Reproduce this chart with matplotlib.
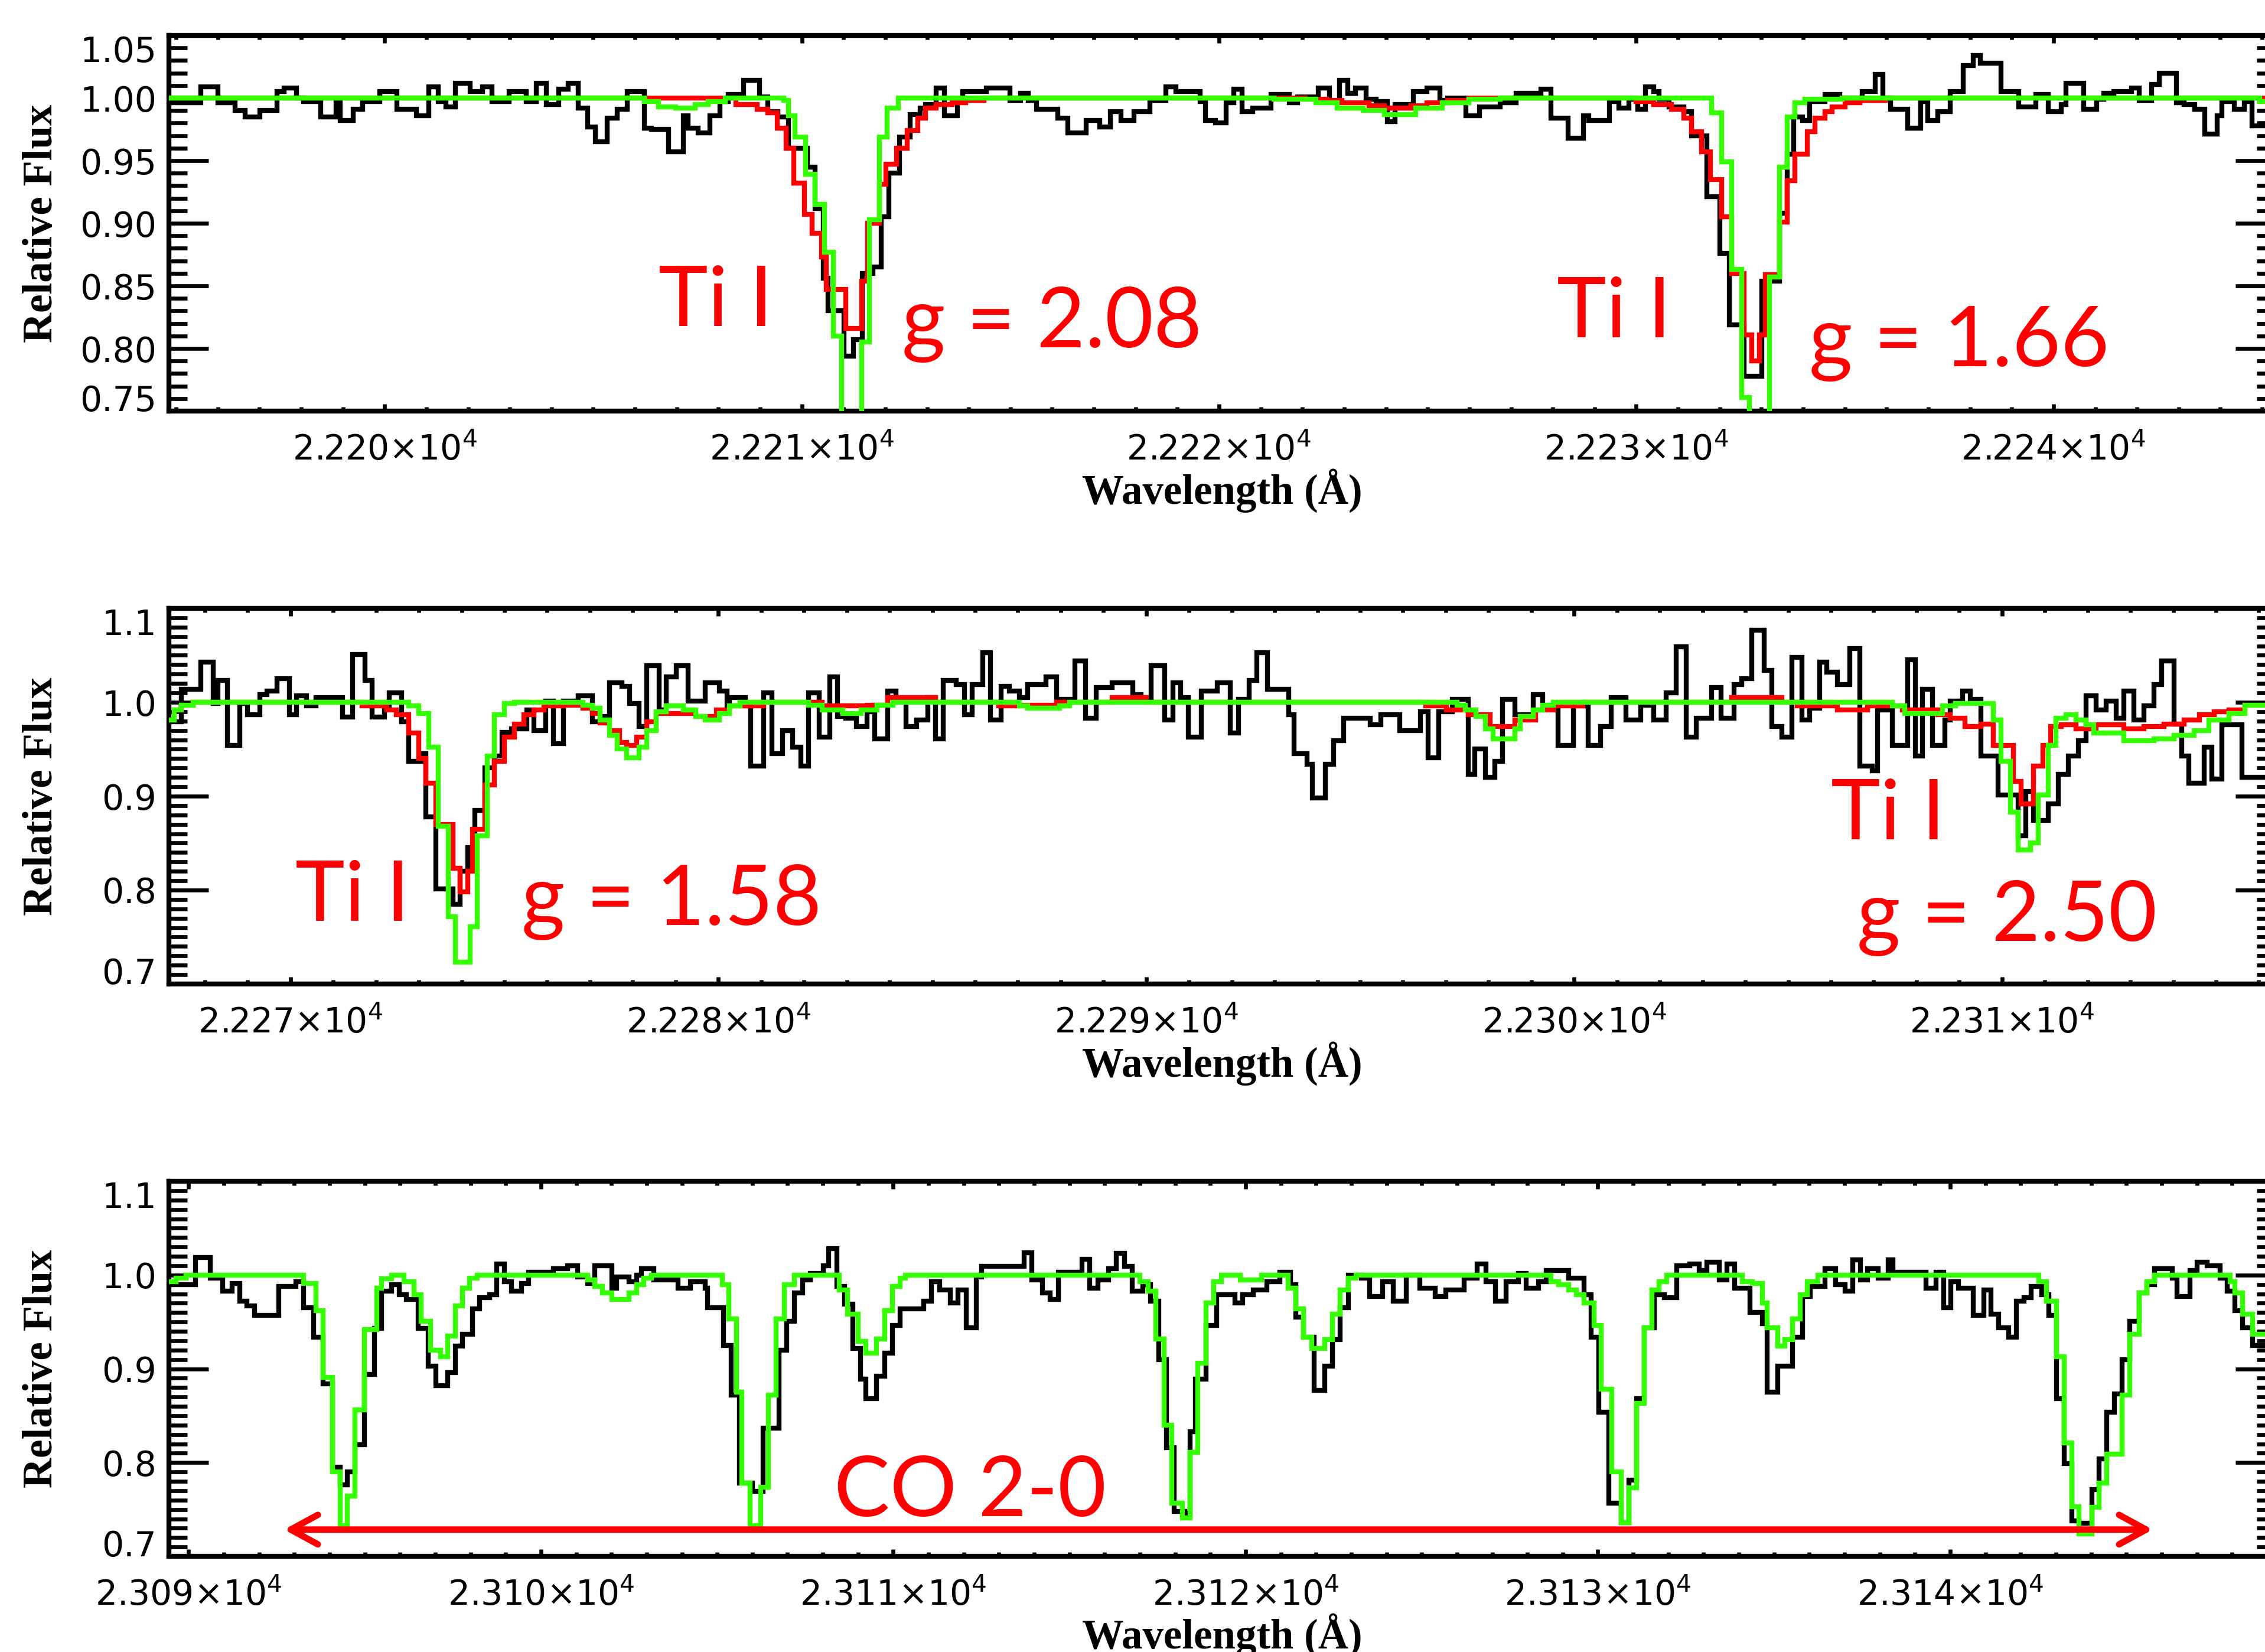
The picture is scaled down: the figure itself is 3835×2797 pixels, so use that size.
import matplotlib
matplotlib.use('Agg')
import matplotlib.pyplot as plt
from matplotlib.ticker import MultipleLocator, FuncFormatter

# ---------------------------------------------------------------------------
# Data: each series is a list of step start wavelengths (Angstrom) and the
# relative flux of that step.
# ---------------------------------------------------------------------------

# panel 1 : Ti I 22211 / 22233
p1_obs_wl = [22194.70, 22195.60, 22196.01, 22196.42, 22196.65, 22197.01, 22197.42, 22197.59, 22197.89, 22198.06,
             22198.47, 22198.83, 22198.94, 22199.24, 22199.47, 22199.88, 22200.29, 22200.76, 22201.06, 22201.29,
             22201.47, 22201.70, 22202.05, 22202.35, 22202.58, 22202.99, 22203.40, 22203.64, 22203.87, 22204.17,
             22204.40, 22204.64, 22204.87, 22205.05, 22205.34, 22205.58, 22205.81, 22206.22, 22206.40, 22206.81,
             22207.16, 22207.28, 22207.51, 22207.79, 22208.04, 22208.23, 22208.61, 22208.99, 22209.18, 22209.43,
             22209.68, 22210.13, 22210.32, 22210.51, 22210.63, 22211.01, 22211.23, 22211.45, 22211.71, 22211.90,
             22212.09, 22212.34, 22212.59, 22212.84, 22212.97, 22213.22, 22213.41, 22213.73, 22213.85, 22214.42,
             22214.99, 22215.24, 22215.43, 22215.62, 22216.13, 22216.38, 22216.82, 22217.14, 22217.39, 22217.65,
             22217.96, 22218.34, 22218.72, 22218.97, 22219.54, 22219.67, 22219.92, 22220.17, 22220.36, 22220.55,
             22220.81, 22221.25, 22221.69, 22221.88, 22222.38, 22222.64, 22222.89, 22223.08, 22223.27, 22223.52,
             22223.77, 22224.03, 22224.22, 22224.66, 22224.98, 22225.29, 22225.48, 22225.92, 22226.24, 22226.74,
             22227.12, 22227.71, 22227.95, 22228.37, 22228.73, 22228.86, 22229.36, 22229.58, 22229.82, 22230.04,
             22230.22, 22230.42, 22230.54, 22230.78, 22231.14, 22231.33, 22231.69, 22232.01, 22232.23, 22232.59,
             22233.01, 22233.43, 22233.62, 22233.77, 22233.98, 22234.16, 22234.52, 22234.88, 22235.42, 22235.72,
             22235.91, 22236.09, 22236.51, 22236.81, 22236.99, 22237.23, 22237.53, 22237.83, 22238.07, 22238.25,
             22238.74, 22239.16, 22239.58, 22239.88, 22240.18, 22240.30, 22240.73, 22241.03, 22241.21, 22241.45,
             22241.87, 22242.05, 22242.35, 22242.53, 22242.95, 22243.13, 22243.38, 22243.62, 22243.92, 22244.04,
             22244.34, 22244.58, 22244.76]
p1_obs_flux = [0.996, 1.009, 0.996, 0.990, 0.985, 0.990, 1.005, 1.008, 1.000, 0.997,
               0.985, 0.997, 0.982, 0.991, 0.997, 1.005, 0.991, 0.986, 1.009, 0.997,
               0.993, 1.012, 1.005, 1.009, 0.997, 1.005, 0.997, 1.012, 0.995, 1.007,
               1.012, 0.992, 0.977, 0.965, 0.984, 0.991, 1.005, 0.976, 0.975, 0.957,
               0.986, 0.976, 0.972, 0.986, 0.997, 1.003, 1.014, 1.001, 0.989, 0.985,
               0.960, 0.945, 0.912, 0.856, 0.830, 0.794, 0.807, 0.860, 0.865, 0.905,
               0.940, 0.969, 0.987, 0.992, 0.995, 1.008, 0.986, 0.997, 1.005, 1.008,
               0.998, 1.004, 0.998, 0.991, 0.984, 0.972, 0.982, 0.977, 0.989, 0.982,
               0.989, 0.998, 1.009, 1.005, 0.997, 0.982, 0.980, 0.996, 1.007, 0.989,
               0.992, 1.003, 0.996, 1.001, 1.008, 0.997, 1.014, 1.004, 1.008, 0.999,
               0.997, 0.981, 0.995, 1.005, 1.008, 0.998, 1.000, 0.986, 0.993, 0.996,
               1.004, 1.007, 0.984, 0.968, 0.986, 0.982, 0.997, 0.992, 0.999, 0.991,
               1.009, 1.005, 0.999, 0.993, 0.989, 0.970, 0.921, 0.876, 0.819, 0.778,
               0.854, 0.908, 0.955, 0.985, 0.982, 0.997, 1.003, 1.000, 1.005, 1.019,
               1.000, 0.991, 0.976, 0.997, 0.982, 0.989, 1.005, 1.026, 1.034, 1.028,
               1.005, 0.993, 1.003, 0.989, 0.995, 1.012, 0.991, 0.999, 1.004, 1.005,
               1.008, 0.998, 1.011, 1.020, 0.996, 0.995, 0.991, 0.971, 0.986, 0.997,
               0.991, 0.997, 0.978]
p1_red_wl = [22194.70, 22208.42, 22208.93, 22209.18, 22209.41, 22209.62, 22209.81, 22210.06, 22210.25, 22210.47,
             22210.59, 22211.05, 22211.43, 22211.58, 22211.86, 22212.02, 22212.27, 22212.53, 22212.78, 22212.97,
             22213.22, 22213.60, 22213.92, 22214.36, 22222.07, 22222.57, 22222.95, 22223.59, 22223.96, 22224.60,
             22224.98, 22225.48, 22225.99, 22230.00, 22230.42, 22230.84, 22231.14, 22231.33, 22231.57, 22231.77,
             22232.05, 22232.29, 22232.59, 22232.77, 22232.95, 22233.10, 22233.43, 22233.62, 22233.80, 22234.10,
             22234.28, 22234.52, 22234.70, 22235.00, 22235.36, 22235.97]
p1_red_flux = [1.000, 0.995, 0.991, 0.988, 0.976, 0.960, 0.932, 0.907, 0.892, 0.873,
               0.847, 0.816, 0.854, 0.900, 0.931, 0.947, 0.960, 0.974, 0.984, 0.992,
               0.995, 0.996, 0.998, 1.000, 0.999, 0.998, 0.996, 0.994, 0.992, 0.994,
               0.996, 0.998, 1.000, 0.997, 0.995, 0.991, 0.984, 0.973, 0.957, 0.935,
               0.905, 0.860, 0.811, 0.790, 0.811, 0.859, 0.901, 0.934, 0.955, 0.973,
               0.984, 0.989, 0.993, 0.996, 0.998, 1.000]
p1_green_wl = [22194.70, 22206.22, 22206.57, 22206.98, 22207.45, 22207.75, 22208.16, 22209.56, 22209.68, 22209.84,
               22210.09, 22210.32, 22210.54, 22210.76, 22210.95, 22211.43, 22211.62, 22211.86, 22212.05, 22212.31,
               22221.31, 22222.32, 22222.83, 22223.46, 22223.96, 22224.72, 22225.35, 22225.99, 22226.74, 22231.81,
               22232.05, 22232.29, 22232.53, 22232.71, 22232.95, 22233.19, 22233.43, 22233.62, 22233.80, 22234.04,
               22234.94, 22244.94]
p1_green_flux = [1.000, 0.997, 0.993, 0.992, 0.995, 0.997, 1.000, 0.998, 0.986, 0.969,
                 0.939, 0.915, 0.877, 0.810, 0.700, 0.805, 0.903, 0.969, 0.992, 1.000,
                 0.999, 0.996, 0.992, 0.990, 0.987, 0.992, 0.996, 0.999, 1.000, 0.988,
                 0.949, 0.863, 0.761, 0.700, 0.748, 0.857, 0.945, 0.985, 0.996, 0.999,
                 1.000, 0.997]

# panel 2 : Ti I 22274 / 22311
p2_obs_wl = [22267.10, 22267.45, 22267.91, 22268.19, 22268.31, 22268.53, 22268.82, 22268.99, 22269.28, 22269.45,
             22269.68, 22269.97, 22270.14, 22270.37, 22270.60, 22271.22, 22271.45, 22271.74, 22271.91, 22272.20,
             22272.31, 22272.60, 22272.77, 22273.06, 22273.17, 22273.40, 22273.80, 22273.97, 22274.14, 22274.31,
             22274.54, 22274.77, 22274.94, 22275.17, 22275.52, 22275.69, 22275.97, 22276.15, 22276.38, 22276.72,
             22277.06, 22277.29, 22277.46, 22277.75, 22277.92, 22278.15, 22278.32, 22278.61, 22278.78, 22279.01,
             22279.29, 22279.69, 22280.02, 22280.20, 22280.26, 22280.63, 22280.76, 22281.06, 22281.25, 22281.50,
             22281.74, 22281.93, 22282.11, 22282.36, 22282.61, 22282.79, 22282.98, 22283.22, 22283.47, 22283.65,
             22283.96, 22284.15, 22284.39, 22284.64, 22284.89, 22285.07, 22285.26, 22285.56, 22285.75, 22285.93,
             22286.18, 22286.36, 22286.61, 22286.80, 22287.04, 22287.23, 22287.66, 22287.90, 22288.34, 22288.58,
             22288.83, 22289.20, 22289.69, 22289.88, 22290.12, 22290.43, 22290.62, 22290.80, 22290.99, 22291.29,
             22291.66, 22291.97, 22292.16, 22292.40, 22292.59, 22292.83, 22293.33, 22293.45, 22293.76, 22293.88,
             22294.19, 22294.38, 22294.62, 22295.24, 22295.48, 22295.92, 22296.41, 22296.59, 22296.84, 22297.15,
             22297.52, 22297.68, 22297.92, 22298.15, 22298.33, 22298.62, 22299.04, 22299.27, 22299.62, 22299.98,
             22300.33, 22300.62, 22300.86, 22301.21, 22301.56, 22301.86, 22302.15, 22302.39, 22302.62, 22302.86,
             22303.21, 22303.44, 22303.74, 22303.91, 22304.15, 22304.44, 22304.62, 22304.85, 22305.09, 22305.32,
             22305.50, 22305.74, 22305.91, 22306.15, 22306.44, 22306.68, 22306.97, 22307.09, 22307.44, 22307.79,
             22307.97, 22308.14, 22308.38, 22308.67, 22308.79, 22309.08, 22309.26, 22309.50, 22309.91, 22310.38,
             22310.55, 22310.73, 22311.08, 22311.32, 22311.55, 22311.79, 22311.96, 22312.20, 22312.43, 22312.67,
             22312.85, 22313.08, 22313.32, 22313.55, 22313.73, 22314.02, 22314.20, 22314.37, 22314.73, 22314.90,
             22315.14, 22315.61]
p2_obs_flux = [0.979, 1.014, 1.043, 0.999, 1.023, 0.954, 0.999, 0.987, 1.008, 1.012,
               1.025, 0.987, 1.007, 0.996, 1.005, 0.984, 1.051, 1.023, 0.984, 0.996,
               1.010, 0.979, 0.937, 0.945, 0.878, 0.801, 0.785, 0.820, 0.845, 0.885,
               0.930, 0.943, 0.968, 0.972, 0.992, 0.970, 1.001, 0.956, 1.001, 1.007,
               0.979, 0.985, 1.021, 1.017, 0.999, 0.974, 1.039, 0.992, 1.027, 1.039,
               1.001, 1.021, 1.012, 0.996, 1.005, 0.996, 0.932, 1.010, 0.945, 0.970,
               0.952, 0.932, 1.010, 0.963, 1.027, 0.985, 0.983, 0.974, 0.990, 0.961,
               1.012, 1.001, 0.974, 0.981, 1.005, 0.961, 1.023, 1.019, 0.987, 1.019,
               1.053, 0.981, 1.017, 1.012, 1.005, 1.019, 1.027, 1.003, 1.044, 0.983,
               1.016, 1.021, 1.008, 1.001, 1.039, 0.981, 1.021, 1.005, 0.963, 1.012,
               1.021, 0.967, 1.003, 1.023, 1.053, 1.014, 0.987, 0.945, 0.934, 0.898,
               0.934, 0.959, 0.983, 0.976, 0.987, 0.970, 0.990, 0.941, 0.990, 1.003,
               0.923, 0.950, 0.920, 0.937, 1.003, 0.987, 1.008, 0.996, 0.954, 0.996,
               0.954, 0.974, 1.005, 0.981, 0.997, 0.981, 1.010, 1.059, 0.963, 0.983,
               1.016, 0.983, 1.019, 1.025, 1.077, 1.034, 0.974, 0.963, 1.048, 0.981,
               0.994, 1.043, 1.032, 1.019, 1.057, 0.932, 0.927, 0.992, 0.954, 1.045,
               0.943, 1.014, 0.954, 0.981, 1.001, 1.012, 1.003, 0.943, 0.901, 0.858,
               0.905, 0.874, 0.892, 0.923, 0.943, 0.959, 1.007, 0.992, 1.001, 0.983,
               1.012, 0.981, 0.996, 1.019, 1.044, 0.977, 0.943, 0.914, 0.952, 0.918,
               0.976, 0.920]
p2_red_wl = [22267.10, 22267.28, 22267.45, 22267.73, 22271.68, 22272.25, 22272.48, 22272.77, 22273.00, 22273.17,
             22273.40, 22273.80, 22273.97, 22274.14, 22274.25, 22274.54, 22274.77, 22275.00, 22275.23, 22275.46,
             22275.69, 22275.92, 22276.38, 22276.83, 22277.06, 22277.23, 22277.46, 22277.69, 22277.86, 22278.09,
             22278.32, 22278.55, 22279.47, 22279.96, 22280.26, 22281.06, 22282.42, 22283.47, 22283.96, 22285.07,
             22286.55, 22286.98, 22287.90, 22289.20, 22290.00, 22296.53, 22297.02, 22297.52, 22298.04, 22298.62,
             22299.10, 22299.51, 22300.21, 22303.68, 22304.85, 22305.21, 22306.15, 22306.85, 22307.67, 22308.50,
             22308.79, 22309.14, 22309.50, 22309.79, 22310.26, 22310.44, 22310.73, 22310.96, 22311.14, 22311.38,
             22311.73, 22312.20, 22312.85, 22313.32, 22313.79, 22314.26, 22314.61, 22314.96, 22315.31, 22315.67]
p2_red_flux = [0.981, 0.992, 0.997, 1.000, 0.996, 0.992, 0.987, 0.967, 0.940, 0.914,
               0.870, 0.823, 0.798, 0.820, 0.865, 0.912, 0.937, 0.963, 0.977, 0.987,
               0.992, 0.996, 0.997, 0.994, 0.988, 0.978, 0.970, 0.957, 0.954, 0.963,
               0.979, 0.988, 0.985, 0.992, 0.996, 1.000, 0.996, 0.997, 1.005, 1.000,
               0.996, 0.997, 1.000, 1.005, 1.000, 0.996, 0.992, 0.987, 0.974, 0.981,
               0.992, 0.996, 1.000, 1.005, 1.000, 0.996, 0.992, 0.996, 0.992, 0.987,
               0.983, 0.974, 0.977, 0.954, 0.916, 0.892, 0.932, 0.954, 0.974, 0.976,
               0.972, 0.976, 0.972, 0.974, 0.977, 0.981, 0.987, 0.990, 0.992, 0.997]
p2_green_wl = [22267.10, 22267.28, 22267.45, 22267.73, 22272.77, 22273.00, 22273.23, 22273.46, 22273.69, 22273.86,
               22274.20, 22274.37, 22274.60, 22274.77, 22275.00, 22275.23, 22276.83, 22277.06, 22277.23, 22277.46,
               22277.63, 22277.86, 22278.15, 22278.32, 22278.55, 22278.78, 22279.18, 22279.47, 22279.69, 22280.02,
               22280.26, 22280.51, 22282.11, 22282.42, 22282.91, 22283.34, 22283.71, 22284.08, 22287.04, 22287.23,
               22287.97, 22288.21, 22297.27, 22297.46, 22297.70, 22297.92, 22298.10, 22298.62, 22298.74, 22299.04,
               22299.27, 22299.51, 22307.44, 22307.73, 22308.61, 22308.91, 22309.79, 22309.97, 22310.20, 22310.38,
               22310.67, 22310.85, 22311.08, 22311.26, 22311.49, 22311.73, 22311.96, 22312.14, 22312.85, 22313.55,
               22314.02, 22314.49, 22314.84, 22315.31, 22315.67]
p2_green_flux = [0.981, 0.992, 0.997, 1.000, 0.996, 0.988, 0.952, 0.868, 0.772, 0.723,
                 0.761, 0.858, 0.943, 0.987, 0.999, 1.000, 0.997, 0.994, 0.981, 0.965,
                 0.950, 0.941, 0.952, 0.970, 0.990, 0.996, 0.992, 0.985, 0.981, 0.988,
                 0.996, 1.000, 0.997, 0.992, 0.988, 0.992, 0.997, 1.000, 0.996, 0.994,
                 0.996, 1.000, 0.997, 0.992, 0.985, 0.972, 0.961, 0.972, 0.985, 0.992,
                 0.997, 1.000, 0.996, 0.988, 0.996, 0.999, 0.981, 0.937, 0.883, 0.843,
                 0.850, 0.901, 0.954, 0.983, 0.987, 0.981, 0.976, 0.967, 0.959, 0.961,
                 0.965, 0.970, 0.981, 0.988, 0.997]

# panel 3 : CO 2-0 band head region
p3_obs_wl = [23089.40, 23090.20, 23090.62, 23090.96, 23091.24, 23091.45, 23091.66, 23091.87, 23092.56, 23093.05,
             23093.26, 23093.54, 23093.81, 23094.09, 23094.30, 23094.51, 23094.72, 23094.99, 23095.27, 23095.48,
             23095.76, 23095.97, 23096.18, 23096.52, 23096.80, 23097.01, 23097.36, 23097.57, 23097.78, 23098.05,
             23098.26, 23098.54, 23098.75, 23098.96, 23099.17, 23099.44, 23099.65, 23100.35, 23100.76, 23101.04,
             23101.32, 23101.53, 23102.02, 23102.15, 23102.50, 23102.71, 23102.85, 23103.20, 23103.89, 23104.24,
             23104.66, 23104.73, 23105.18, 23105.40, 23105.63, 23106.00, 23106.30, 23106.75, 23106.98, 23107.20,
             23107.43, 23107.65, 23108.02, 23108.17, 23108.40, 23108.62, 23108.85, 23109.07, 23109.22, 23109.52,
             23109.75, 23109.97, 23110.19, 23110.87, 23111.09, 23111.32, 23111.62, 23111.84, 23112.07, 23112.36,
             23112.51, 23113.71, 23113.94, 23114.24, 23114.46, 23114.68, 23115.36, 23115.58, 23115.81, 23116.11,
             23116.33, 23116.56, 23116.78, 23117.08, 23117.30, 23117.53, 23117.75, 23117.98, 23118.28, 23118.43,
             23118.58, 23118.88, 23119.18, 23119.70, 23119.92, 23120.22, 23120.60, 23120.97, 23121.27, 23121.42,
             23121.64, 23121.94, 23122.24, 23122.47, 23122.69, 23122.92, 23123.29, 23123.52, 23123.89, 23124.19,
             23124.56, 23124.94, 23125.39, 23125.69, 23126.21, 23126.58, 23126.82, 23127.10, 23127.39, 23127.74,
             23127.96, 23128.32, 23128.53, 23129.17, 23129.60, 23129.81, 23130.03, 23130.31, 23130.67, 23130.88,
             23131.10, 23131.31, 23131.60, 23131.88, 23132.24, 23132.60, 23132.88, 23133.10, 23133.45, 23133.67,
             23133.88, 23134.31, 23134.67, 23134.81, 23135.10, 23135.52, 23135.81, 23136.02, 23136.45, 23136.74,
             23137.02, 23137.24, 23137.45, 23137.66, 23137.95, 23138.24, 23138.38, 23139.31, 23139.59, 23139.81,
             23140.02, 23140.23, 23140.66, 23140.95, 23141.16, 23141.38, 23141.66, 23141.88, 23142.09, 23142.30,
             23142.59, 23142.80, 23143.02, 23143.23, 23143.45, 23143.66, 23144.02, 23144.23, 23144.44, 23144.66,
             23144.87, 23145.09, 23145.37, 23145.59, 23145.80, 23146.30, 23146.44, 23146.80, 23147.01, 23147.30,
             23147.66, 23147.87, 23148.08, 23148.30, 23148.58]
p3_obs_flux = [0.990, 1.019, 0.997, 0.983, 0.991, 0.972, 0.967, 0.957, 0.988, 0.993,
               0.965, 0.934, 0.884, 0.795, 0.776, 0.790, 0.819, 0.894, 0.943, 0.983,
               0.990, 0.979, 0.974, 0.943, 0.903, 0.882, 0.896, 0.924, 0.937, 0.964,
               0.976, 0.979, 1.012, 0.993, 0.983, 0.991, 1.003, 1.007, 1.010, 0.998,
               0.991, 1.010, 0.986, 0.998, 0.993, 1.000, 1.007, 0.995, 0.986, 0.993,
               0.986, 0.965, 0.925, 0.872, 0.778, 0.769, 0.837, 0.920, 0.951, 0.981,
               0.995, 1.002, 1.010, 1.028, 0.988, 0.969, 0.922, 0.889, 0.868, 0.892,
               0.917, 0.946, 0.964, 0.972, 0.993, 0.984, 0.970, 0.984, 0.944, 0.998,
               1.009, 1.024, 0.995, 0.981, 0.974, 1.003, 1.017, 0.986, 0.995, 1.007,
               1.023, 1.009, 0.983, 0.990, 0.972, 0.910, 0.816, 0.748, 0.746, 0.833,
               0.889, 0.946, 0.979, 0.970, 0.979, 0.984, 0.993, 1.003, 0.990, 0.955,
               0.934, 0.877, 0.903, 0.931, 0.965, 1.000, 0.997, 0.977, 0.993, 0.972,
               1.000, 0.986, 0.977, 0.984, 0.997, 1.012, 0.993, 0.972, 0.993, 1.002,
               0.986, 0.993, 1.005, 0.997, 0.979, 0.934, 0.854, 0.757, 0.736, 0.781,
               0.868, 0.944, 0.979, 0.976, 1.010, 1.012, 1.005, 1.014, 0.995, 1.012,
               0.986, 0.960, 0.948, 0.875, 0.903, 0.934, 0.977, 0.988, 1.007, 0.990,
               0.983, 1.016, 0.995, 1.007, 0.997, 1.016, 1.003, 0.986, 1.003, 0.965,
               0.993, 0.986, 0.957, 0.984, 0.958, 0.944, 0.934, 0.972, 0.976, 0.988,
               0.979, 0.957, 0.868, 0.799, 0.738, 0.735, 0.771, 0.804, 0.854, 0.873,
               0.910, 0.951, 0.981, 0.990, 1.007, 0.997, 0.977, 1.005, 1.014, 1.010,
               0.997, 0.983, 0.962, 0.944, 0.925]
p3_green_wl = [23089.40, 23089.64, 23089.92, 23093.26, 23093.61, 23093.81, 23094.09, 23094.30, 23094.51, 23094.72,
               23094.99, 23095.34, 23095.48, 23095.76, 23096.11, 23096.39, 23096.59, 23096.87, 23097.15, 23097.36,
               23097.57, 23097.78, 23097.98, 23098.19, 23101.32, 23101.53, 23101.74, 23102.02, 23102.50, 23102.71,
               23102.92, 23103.13, 23105.14, 23105.33, 23105.55, 23105.70, 23105.93, 23106.23, 23106.45, 23106.68,
               23106.90, 23107.20, 23108.47, 23108.70, 23109.00, 23109.22, 23109.52, 23109.75, 23109.97, 23110.19,
               23110.34, 23117.00, 23117.23, 23117.45, 23117.68, 23117.90, 23118.20, 23118.43, 23118.65, 23118.88,
               23119.10, 23119.32, 23119.85, 23120.45, 23121.20, 23121.42, 23121.64, 23121.87, 23122.24, 23122.47,
               23122.69, 23122.92, 23123.14, 23128.67, 23128.89, 23129.17, 23129.39, 23129.60, 23129.89, 23130.10,
               23130.39, 23130.67, 23130.88, 23131.10, 23131.31, 23131.53, 23131.74, 23131.96, 23134.10, 23134.38,
               23134.67, 23134.81, 23135.10, 23135.31, 23135.52, 23135.74, 23135.95, 23136.24, 23142.52, 23142.73,
               23143.02, 23143.23, 23143.45, 23143.66, 23144.02, 23144.23, 23144.44, 23144.87, 23145.09, 23145.37,
               23145.59, 23145.80, 23147.94, 23148.08, 23148.30, 23148.58]
p3_green_flux = [0.993, 0.997, 1.000, 0.991, 0.962, 0.891, 0.790, 0.733, 0.764, 0.856,
                 0.942, 0.986, 0.996, 1.000, 0.993, 0.979, 0.951, 0.920, 0.913, 0.935,
                 0.967, 0.986, 0.997, 1.000, 0.995, 0.988, 0.981, 0.974, 0.981, 0.990,
                 0.997, 1.000, 0.990, 0.953, 0.875, 0.778, 0.733, 0.774, 0.872, 0.953,
                 0.990, 1.000, 0.984, 0.958, 0.929, 0.917, 0.932, 0.962, 0.988, 0.997,
                 1.000, 0.993, 0.983, 0.932, 0.840, 0.757, 0.741, 0.811, 0.906, 0.970,
                 0.993, 1.000, 0.995, 1.000, 0.986, 0.964, 0.934, 0.922, 0.931, 0.958,
                 0.984, 0.997, 1.000, 0.993, 0.990, 0.984, 0.979, 0.970, 0.946, 0.878,
                 0.790, 0.736, 0.773, 0.863, 0.944, 0.984, 0.993, 1.000, 0.993, 0.991,
                 0.970, 0.944, 0.924, 0.931, 0.953, 0.979, 0.993, 1.000, 0.993, 0.972,
                 0.913, 0.821, 0.753, 0.724, 0.752, 0.778, 0.809, 0.872, 0.937, 0.981,
                 0.993, 1.000, 0.993, 0.981, 0.958, 0.937]

# annotations (text, wavelength, flux of the baseline)
p1_labels = [('Ti I', 22206.57, 0.818), ('g = 2.08', 22212.40, 0.801),
             ('Ti I', 22228.10, 0.809), ('g = 1.66', 22234.14, 0.786)]
p2_labels = [('Ti I', 22270.11, 0.767), ('g = 1.58', 22275.40, 0.763),
             ('Ti I', 22306.00, 0.854), ('g = 2.50', 22306.61, 0.746)]
p3_labels = [('CO 2-0', 23108.32, 0.743)]
p3_arrow = (23092.71, 23145.75, 0.7285)

# ---------------------------------------------------------------------------
W, H, DPI = 3835, 2797, 300
BLACK, RED, GREEN = 'black', '#ff0000', '#33ff00'

fig = plt.figure(figsize=(W / DPI, H / DPI), dpi=DPI)
fig.patch.set_facecolor('white')


def steps(ax, wl, flux, end, color, z):
    n = min(len(wl), len(flux))
    ax.stairs(flux[:n], list(wl[:n]) + [end], baseline=None, color=color,
              lw=2.0, joinstyle='miter', zorder=z)


def panel(top_px, bot_px, xlim, ylim, yticks, yfmt):
    ax = fig.add_axes([286 / W, 1 - bot_px / H, (3852 - 286) / W, (bot_px - top_px) / H])
    ax.set_xlim(*xlim)
    ax.set_ylim(*ylim)
    for s in ax.spines.values():
        s.set_linewidth(2.0)
    ax.tick_params(which='both', direction='in', top=True, right=True, colors='black')
    ax.tick_params(axis='y', which='major', length=16, width=1.6, labelsize=14, pad=5)
    ax.tick_params(axis='y', which='minor', length=7.5, width=1.6)
    ax.tick_params(axis='x', which='major', length=3.0, width=1.6, labelsize=14, pad=9)
    ax.tick_params(axis='x', which='minor', length=1.6, width=1.6)
    ax.xaxis.set_major_locator(MultipleLocator(10))
    ax.xaxis.set_minor_locator(MultipleLocator(1))
    ax.xaxis.set_major_formatter(FuncFormatter(lambda v, p: f'{v / 1e4:.3f}×$10^{{4}}$'))
    ax.set_yticks(yticks)
    ax.set_yticklabels([yfmt % t for t in yticks])
    ax.yaxis.set_minor_locator(MultipleLocator(0.01))
    ticks = ax.yaxis.get_major_ticks()
    ticks[0].label1.set_va('baseline')
    ticks[-1].label1.set_va('top')
    ax.set_xlabel('Wavelength (Å)', fontfamily='Liberation Serif', fontweight='bold', fontsize=17)
    ax.xaxis.set_label_coords(0.5, -0.152)
    ax.set_ylabel('Relative Flux', fontfamily='Liberation Serif', fontweight='bold', fontsize=17)
    ax.yaxis.set_label_coords(-0.0603, 0.5)
    ax.yaxis.label.set_va('center')
    return ax


def red_text(ax, items):
    for s, x, y in items:
        ax.text(x, y, s, color=RED, fontsize=34, fontfamily='Lato',
                ha='left', va='baseline', zorder=6, clip_on=False)


ax1 = panel(60, 696, (22194.83, 22245.31), (0.75, 1.05),
            [0.75, 0.80, 0.85, 0.90, 0.95, 1.00, 1.05], '%.2f')
steps(ax1, p1_obs_wl, p1_obs_flux, 22245.4, BLACK, 2)
steps(ax1, p1_red_wl, p1_red_flux, 22245.4, RED, 3)
steps(ax1, p1_green_wl, p1_green_flux, 22245.4, GREEN, 4)
red_text(ax1, p1_labels)

ax2 = panel(1030, 1666, (22267.16, 22316.38), (0.70, 1.10),
            [0.7, 0.8, 0.9, 1.0, 1.1], '%.1f')
steps(ax2, p2_obs_wl, p2_obs_flux, 22316.5, BLACK, 2)
steps(ax2, p2_red_wl, p2_red_flux, 22316.5, RED, 3)
steps(ax2, p2_green_wl, p2_green_flux, 22316.5, GREEN, 4)
red_text(ax2, p2_labels)

ax3 = panel(2000, 2635, (23089.44, 23149.22), (0.70, 1.10),
            [0.7, 0.8, 0.9, 1.0, 1.1], '%.1f')
steps(ax3, p3_obs_wl, p3_obs_flux, 23149.3, BLACK, 2)
steps(ax3, p3_green_wl, p3_green_flux, 23149.3, GREEN, 4)
red_text(ax3, p3_labels)
x0, x1, ya = p3_arrow
ax3.annotate('', xy=(x1, ya), xytext=(x0, ya),
             arrowprops=dict(arrowstyle='<->,head_length=0.44,head_width=0.24',
                             color=RED, lw=2.6, shrinkA=0, shrinkB=0, mutation_scale=25,
                             capstyle='round', joinstyle='round'),
             zorder=5)

fig.savefig('out.png', dpi=DPI, facecolor='white')
